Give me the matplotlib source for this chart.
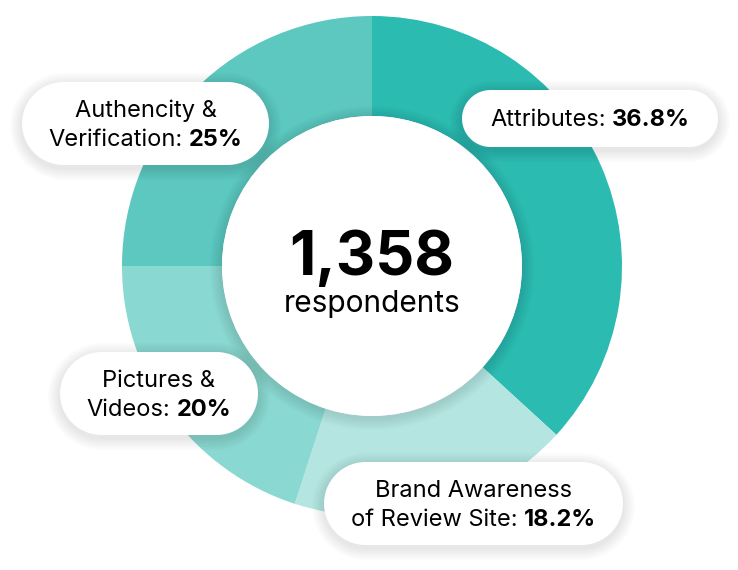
import numpy as np
import matplotlib.pyplot as plt
from matplotlib.patches import Circle, Polygon

plt.rcParams['font.family'] = ['Inter', 'DejaVu Sans']

# data
labels = ['Attributes:', 'Brand Awareness\nof Review Site:', 'Pictures &\nVideos:', 'Authencity &\nVerification:']
values = [36.8, 18.2, 20, 25]
colors = ['#2BBBB0', '#B4E5E1', '#89D8D1', '#5CC8C0']
total_respondents = 1358

# label boxes (left, top, right, bottom) in pixels, same order as labels
boxes = [(462, 90, 718, 147), (324, 462, 623, 545), (60, 352, 258, 435), (22, 82, 269, 165)]

W, H = 738, 570
cx, cy, R = 372, 266, 250

fig = plt.figure(figsize=(W / 100, H / 100), dpi=100)
ax = fig.add_axes([0, 0, 1, 1])

# y axis is flipped below, so start at -90 and go counterclock -> clockwise from top on screen
ax.pie(values, colors=colors, startangle=-90, counterclock=True, center=(cx, cy), radius=R,
       wedgeprops=dict(width=100, linewidth=0), frame=True)
ax.set_xlim(0, W)
ax.set_ylim(H, 0)  # pixel coords, y down
ax.axis('off')

# inner circle with soft shadow
for k in range(8, 0, -1):
    ax.add_patch(Circle((cx, cy + 2), 150 + k * 1.5, color='black', alpha=0.012, lw=0, zorder=3))
ax.add_patch(Circle((cx, cy), 150, color='white', lw=0, zorder=4))

ax.text(cx, 275, f'{total_respondents:,}', fontsize=44, fontweight='bold', ha='center',
        va='baseline', zorder=5)
ax.text(cx, 312, 'respondents', fontsize=21.5, ha='center', va='baseline', zorder=5)

fig.canvas.draw()
renderer = fig.canvas.get_renderer()


def pill(l, t, r, b, grow=0):
    l, t, r, b = l - grow, t - grow, r + grow, b + grow
    rad = (b - t) / 2
    my = (t + b) / 2
    a = np.linspace(-np.pi / 2, np.pi / 2, 40)
    right = np.column_stack([r - rad + rad * np.cos(a), my + rad * np.sin(a)])
    left = np.column_stack([l + rad - rad * np.cos(a), my - rad * np.sin(a)])
    return np.vstack([right, left])


def rich_line(x_c, y, parts, size=17):
    texts = [ax.text(0, y, s, fontsize=size, fontweight=w, ha='left', va='baseline', zorder=8)
             for s, w in parts]
    widths = [t.get_window_extent(renderer).width for t in texts]
    gap = 6
    x = x_c - (sum(widths) + gap * (len(parts) - 1)) / 2
    for t, w in zip(texts, widths):
        t.set_x(x)
        x += w + gap


for lab, val, (l, t, r, b) in zip(labels, values, boxes):
    for k in range(8, 0, -1):
        ax.add_patch(Polygon(pill(l, t + 3, r, b + 3, grow=k * 1.5), closed=True,
                             color='black', alpha=0.01, lw=0, zorder=6))
    ax.add_patch(Polygon(pill(l, t, r, b), closed=True, color='white', lw=0, zorder=7))
    lines = lab.split('\n')
    n = len(lines)
    mid = (t + b) / 2
    base0 = mid + 7.5 - (n - 1) * 14
    for i, line in enumerate(lines):
        y = base0 + i * 28.5
        if i == n - 1:
            rich_line((l + r) / 2, y, [(line, 'normal'), (f'{val:g}%', 'bold')])
        else:
            rich_line((l + r) / 2, y, [(line, 'normal')])

fig.savefig('out.png', dpi=100, facecolor='white')
